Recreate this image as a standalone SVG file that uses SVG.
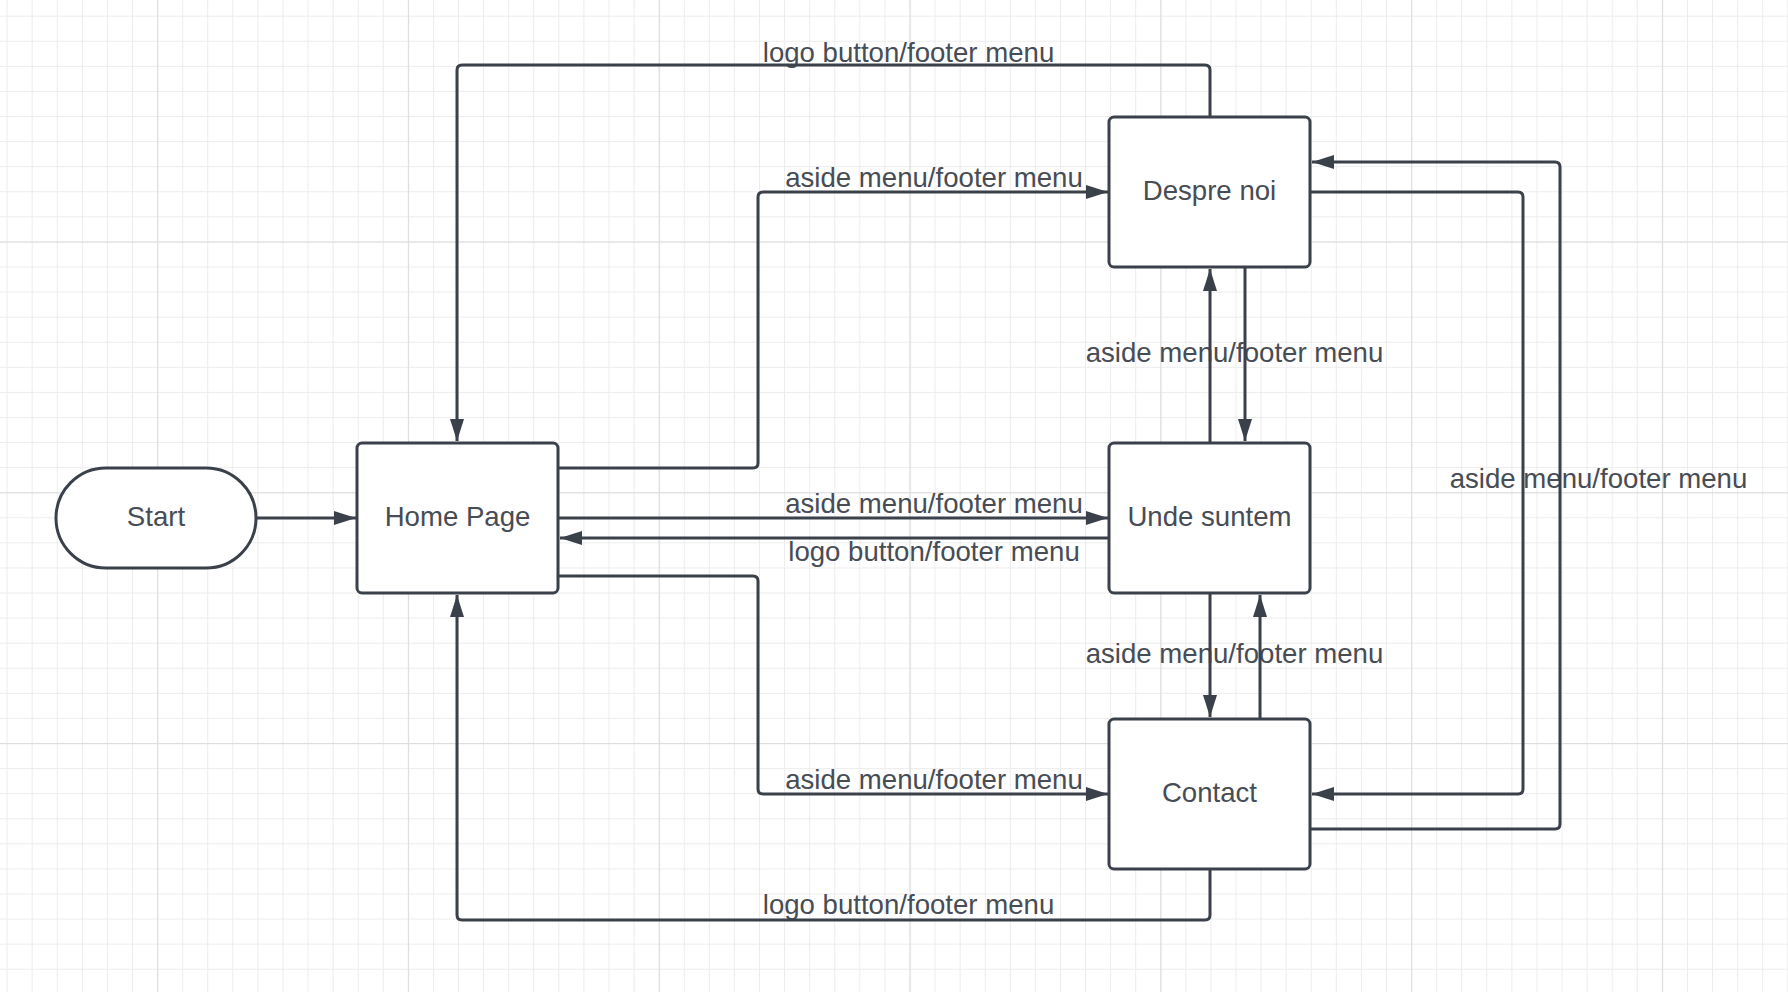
<svg xmlns="http://www.w3.org/2000/svg" width="1788" height="992" viewBox="0 0 1788 992">
  <style>
    .node { fill: #ffffff; stroke: #3a414a; stroke-width: 3; }
    .ntext { font-family: "Liberation Sans", Arial, sans-serif; font-size: 27.6px; fill: #474c55; text-anchor: middle; }
    .ltext { font-family: "Liberation Sans", Arial, sans-serif; font-size: 27.6px; fill: #474c55; text-anchor: middle; }
    .conn { fill: none; stroke: #3a414a; stroke-width: 3; marker-end: url(#arrow); }
  </style>
  <defs>
    <pattern id="gridMinor" patternUnits="userSpaceOnUse" x="6.6" y="15.7" width="25.08" height="25.08">
      <rect x="0" y="0" width="1" height="25.08" fill="#ececec"/>
      <rect x="0" y="0" width="25.08" height="1" fill="#ececec"/>
    </pattern>
    <pattern id="gridMajor" patternUnits="userSpaceOnUse" x="157.1" y="241.4" width="250.8" height="250.8">
      <rect x="0" y="0" width="1.2" height="250.8" fill="#dedede"/>
      <rect x="0" y="0" width="250.8" height="1.2" fill="#dedede"/>
    </pattern>
    <marker id="arrow" markerUnits="userSpaceOnUse" markerWidth="24" markerHeight="16" refX="22" refY="7" orient="auto" overflow="visible">
      <path d="M0,0 L22,7 L0,14 Z" fill="#3a414a"/>
    </marker>
  </defs>

  <rect x="0" y="0" width="1788" height="992" fill="#ffffff"/>
  <rect x="0" y="0" width="1788" height="992" fill="url(#gridMinor)"/>
  <rect x="0" y="0" width="1788" height="992" fill="url(#gridMajor)"/>

  <g id="labels">
    <text class="ltext" x="908.5" y="62">logo button/footer menu</text>
    <text class="ltext" x="934" y="187">aside menu/footer menu</text>
    <text class="ltext" x="934" y="513">aside menu/footer menu</text>
    <text class="ltext" x="934" y="561">logo button/footer menu</text>
    <text class="ltext" x="934" y="789">aside menu/footer menu</text>
    <text class="ltext" x="1234.5" y="362">aside menu/footer menu</text>
    <text class="ltext" x="1234.5" y="663">aside menu/footer menu</text>
    <text class="ltext" x="1598.5" y="488">aside menu/footer menu</text>
    <text class="ltext" x="908.5" y="914">logo button/footer menu</text>
  </g>

  <g id="connectors">
    <path class="conn" d="M256,518 H356"/>
    <path class="conn" d="M558,468 H753 Q758,468 758,463 V197 Q758,192 763,192 H1108"/>
    <path class="conn" d="M558,518 H1108"/>
    <path class="conn" d="M1109,538 H560"/>
    <path class="conn" d="M558,576 H753 Q758,576 758,581 V789 Q758,794 763,794 H1108"/>
    <path class="conn" d="M1210,117 V70 Q1210,65 1205,65 H462 Q457,65 457,70 V441"/>
    <path class="conn" d="M1210,869 V915 Q1210,920 1205,920 H462 Q457,920 457,915 V595"/>
    <path class="conn" d="M1210,443 V269"/>
    <path class="conn" d="M1245,267 V441"/>
    <path class="conn" d="M1210,593 V717"/>
    <path class="conn" d="M1260,719 V595"/>
    <path class="conn" d="M1310,192 H1518 Q1523,192 1523,197 V789 Q1523,794 1518,794 H1312"/>
    <path class="conn" d="M1310,829 H1555 Q1560,829 1560,824 V167 Q1560,162 1555,162 H1312"/>
  </g>

  <g id="start">
    <rect class="node" x="56" y="468" width="200" height="100" rx="50" ry="50"/>
    <text class="ntext" x="156" y="526">Start</text>
  </g>
  <g id="home-page">
    <rect class="node" x="357" y="443" width="201" height="150" rx="5" ry="5"/>
    <text class="ntext" x="457.5" y="526">Home Page</text>
  </g>
  <g id="despre-noi">
    <rect class="node" x="1109" y="117" width="201" height="150" rx="5" ry="5"/>
    <text class="ntext" x="1209.5" y="200">Despre noi</text>
  </g>
  <g id="unde-suntem">
    <rect class="node" x="1109" y="443" width="201" height="150" rx="5" ry="5"/>
    <text class="ntext" x="1209.5" y="526">Unde suntem</text>
  </g>
  <g id="contact">
    <rect class="node" x="1109" y="719" width="201" height="150" rx="5" ry="5"/>
    <text class="ntext" x="1209.5" y="802">Contact</text>
  </g>
</svg>
